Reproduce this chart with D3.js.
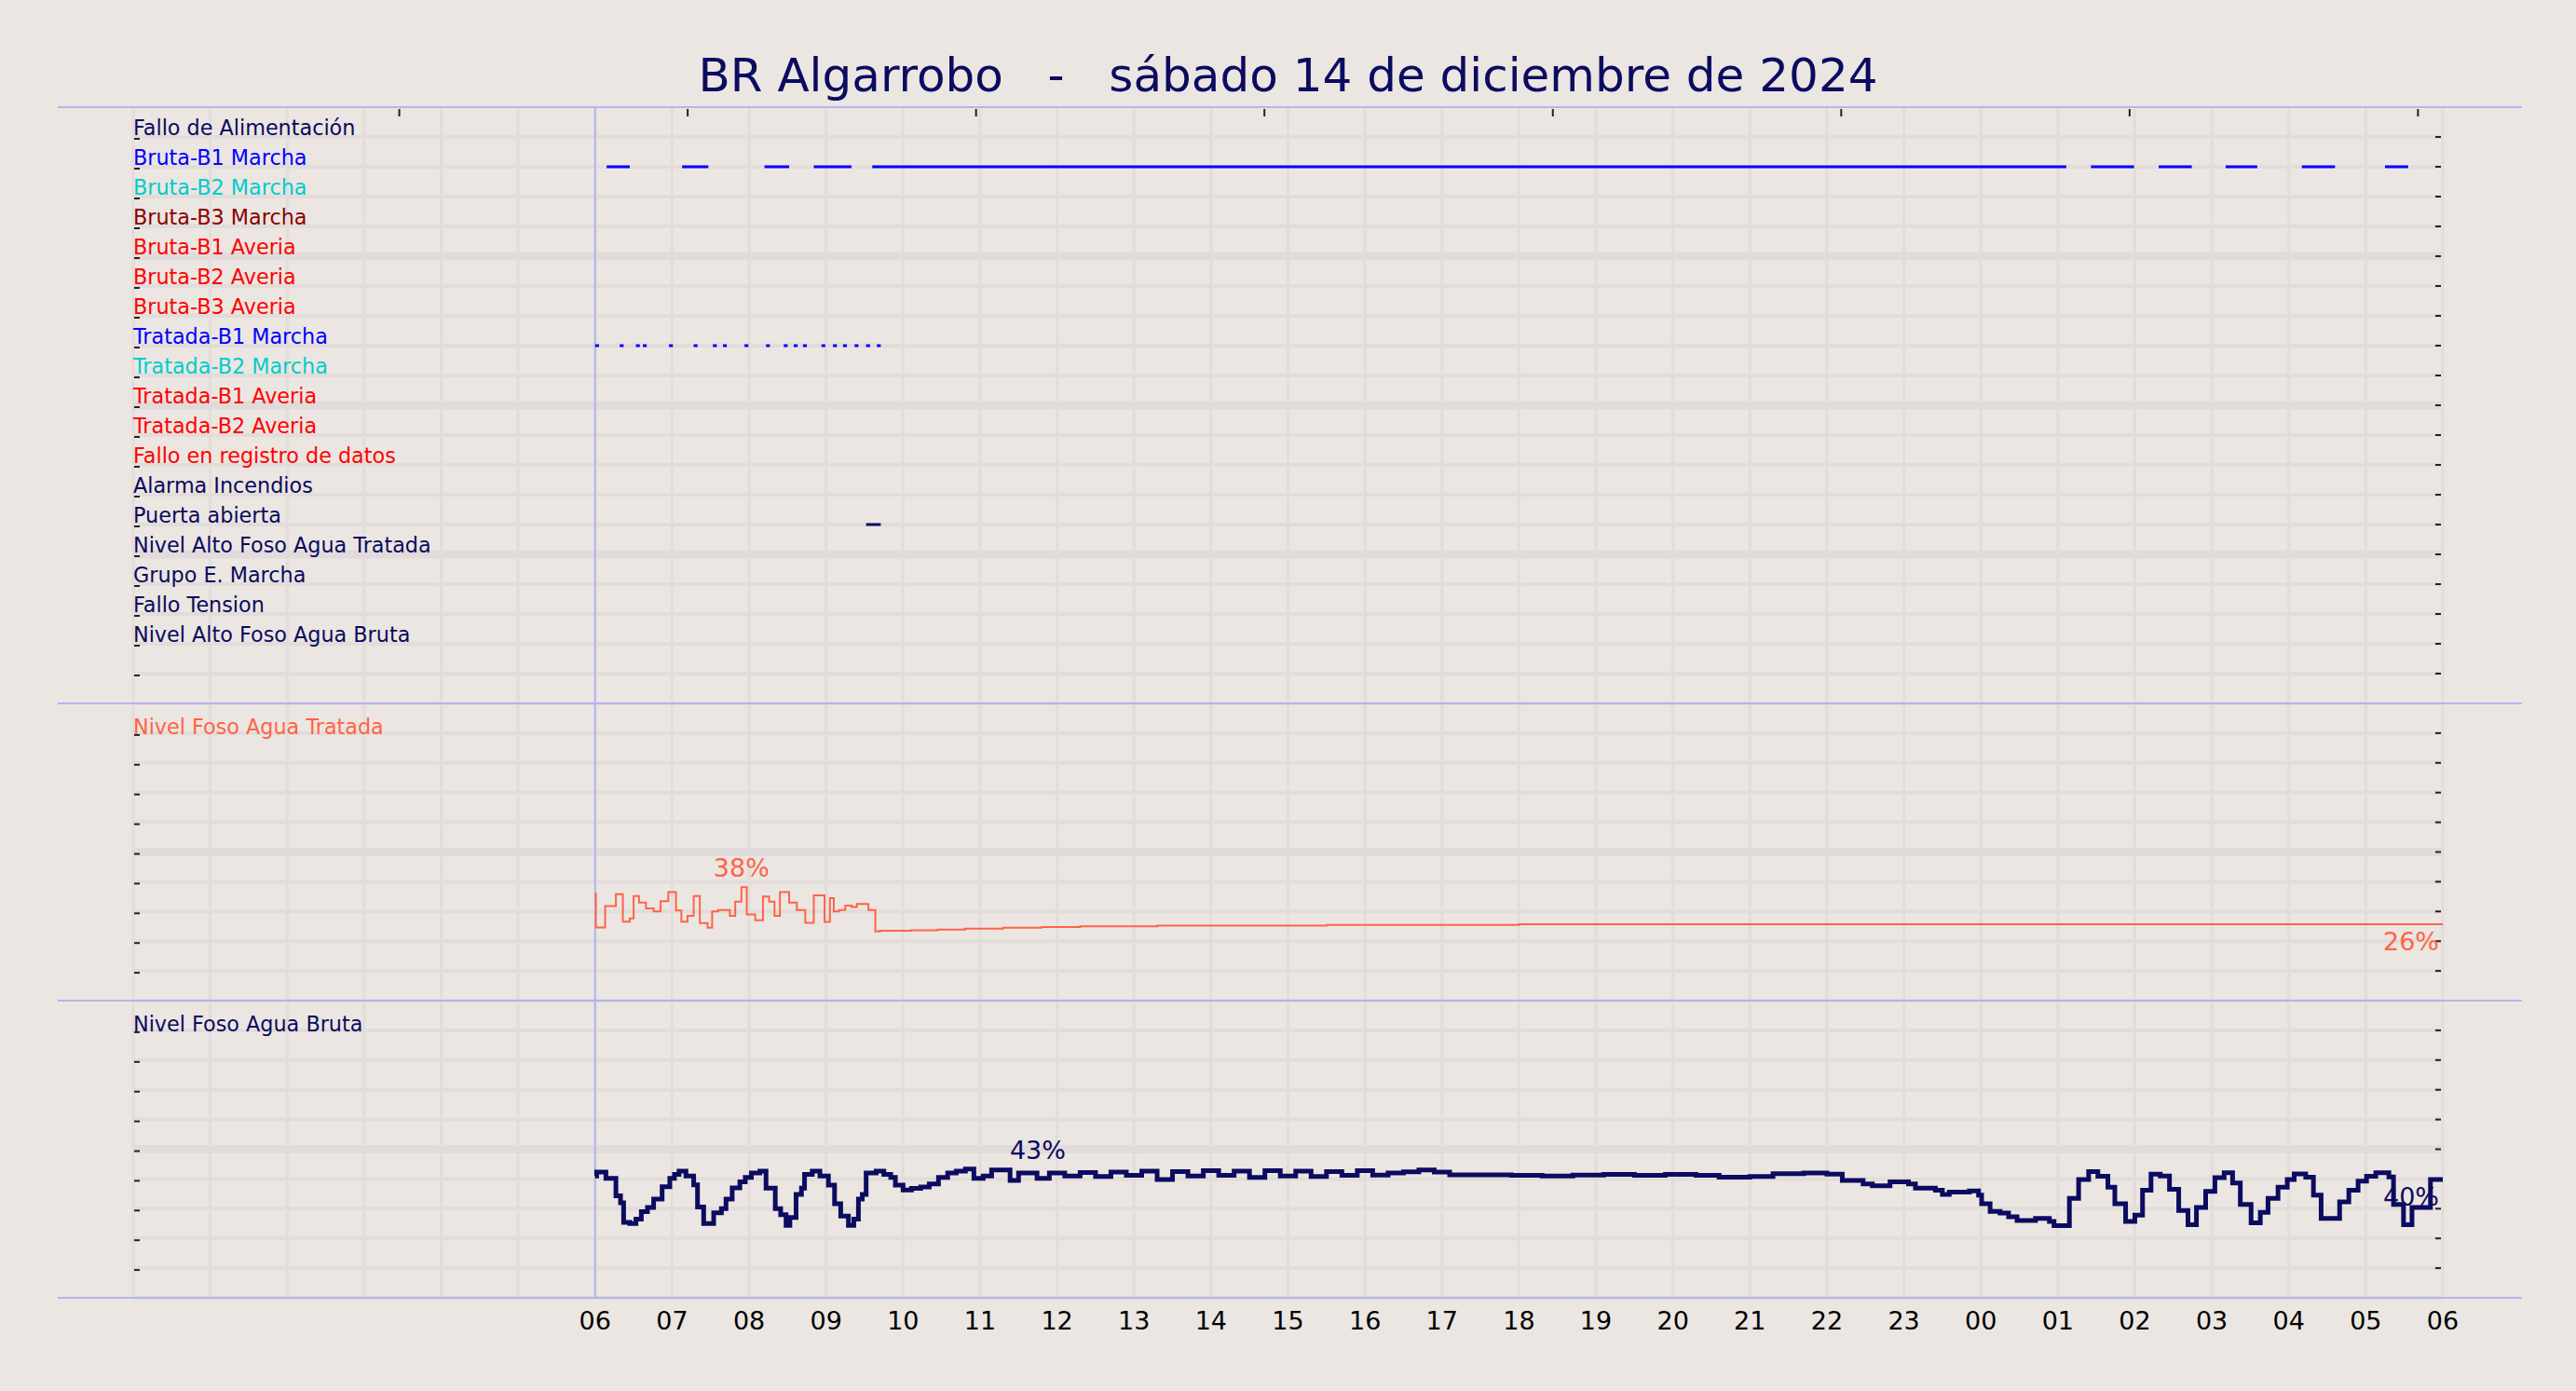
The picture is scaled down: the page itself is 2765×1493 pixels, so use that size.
<!DOCTYPE html>
<html><head><meta charset="utf-8">
<script src="https://cdn.jsdelivr.net/npm/d3@7"></script>
<style>body{margin:0;background:#ebe6e1}svg{display:block}</style>
</head><body>
<svg id="chart" width="2765" height="1493"></svg>
<script>
// hours counted from 00:00 of the 14th, events/levels from 06:00
const title = 'BR Algarrobo   -   sábado 14 de diciembre de 2024';
const hourLabels = ['06','07','08','09','10','11','12','13','14','15','16','17','18','19','20','21','22','23','00','01','02','03','04','05','06'];

const signalNames = ['Fallo de Alimentación','Bruta-B1 Marcha','Bruta-B2 Marcha','Bruta-B3 Marcha','Bruta-B1 Averia','Bruta-B2 Averia','Bruta-B3 Averia','Tratada-B1 Marcha','Tratada-B2 Marcha','Tratada-B1 Averia','Tratada-B2 Averia','Fallo en registro de datos','Alarma Incendios','Puerta abierta','Nivel Alto Foso Agua Tratada','Grupo E. Marcha','Fallo Tension','Nivel Alto Foso Agua Bruta'];
const signalColors = ['#0a0a60','#0000ff','#00cccc','#8b0000','#ff0000','#ff0000','#ff0000','#0000ff','#00cccc','#ff0000','#ff0000','#ff0000','#0a0a60','#0a0a60','#0a0a60','#0a0a60','#0a0a60','#0a0a60'];

// [start, end] in hours after 06:00
const brutaB1 = [[0.15,0.45],[1.13,1.47],[2.2,2.52],[2.84,3.33],[3.6,19.11],[19.43,19.99],[20.31,20.74],[21.18,21.59],[22.17,22.6],[23.25,23.55]];
const tratadaB1 = [0,0.32,0.53,0.62,0.96,1.28,1.53,1.66,1.94,2.22,2.45,2.58,2.7,2.94,3.09,3.22,3.37,3.52,3.66];
const puerta = [[3.52,3.71]];

const aguaTratada = [[0,36],[0.01,24.6],[0.13,31.8],[0.27,35.8],[0.36,26.6],[0.45,27.7],[0.5,35.2],[0.57,33],[0.66,31],[0.76,30],[0.85,33.5],[0.95,36.5],[1.05,30.3],[1.12,26.6],[1.2,28.5],[1.28,35.2],[1.36,26.1],[1.46,24.5],[1.52,30],[1.6,30.5],[1.75,28.5],[1.82,33.3],[1.9,38.2],[1.97,29],[2.08,27],[2.18,35],[2.26,33.3],[2.33,28.5],[2.4,36.5],[2.52,33],[2.62,30.5],[2.73,26.2],[2.84,35.4],[2.98,26.5],[3.05,34.5],[3.1,30],[3.17,30.5],[3.25,32],[3.33,31.5],[3.4,32.5],[3.55,30.5],[3.64,23.3],[3.7,23.5],[4.1,23.7],[4.45,23.9],[4.8,24.2],[5.3,24.5],[5.8,24.8],[6.3,25],[7.3,25.2],[9.5,25.5],[12,25.7],[24,25.7]];
const aguaBruta = [[0,41],[0.02,42.3],[0.14,40.2],[0.27,34.3],[0.33,32],[0.37,25.4],[0.45,25],[0.53,26.5],[0.6,29],[0.68,30.4],[0.76,33.2],[0.87,37.4],[0.97,40.2],[1.03,41.5],[1.09,42.6],[1.18,41],[1.28,38],[1.33,30.6],[1.41,25],[1.54,28.6],[1.64,30],[1.7,33.2],[1.78,37],[1.88,39],[1.95,40.5],[2.03,42],[2.14,42.6],[2.22,36.9],[2.34,30],[2.41,28],[2.48,24.4],[2.53,27],[2.61,34.8],[2.68,36.9],[2.72,41.5],[2.82,42.6],[2.92,41],[3.03,37.9],[3.11,31.7],[3.19,27.5],[3.29,24.4],[3.36,26.5],[3.42,33.2],[3.47,34.8],[3.52,42],[3.65,42.6],[3.75,41.5],[3.84,40.5],[3.9,37.9],[4,36.3],[4.11,36.8],[4.23,37.3],[4.34,38.3],[4.46,40.5],[4.58,42],[4.69,42.6],[4.81,43.3],[4.92,40.2],[5.04,41],[5.15,43],[5.35,43],[5.39,39.5],[5.5,42],[5.62,42],[5.74,40.2],[5.9,42],[6.1,41],[6.3,42.2],[6.5,40.8],[6.7,42.3],[6.9,41.2],[7.1,42.6],[7.3,39.8],[7.5,42.5],[7.7,41],[7.9,42.8],[8.1,41.2],[8.3,42.6],[8.5,40.5],[8.7,42.8],[8.9,41],[9.1,42.6],[9.3,40.8],[9.5,42.5],[9.7,41.2],[9.9,42.8],[10.1,41.3],[10.3,42],[10.5,42.4],[10.7,43],[10.9,42.3],[11.1,41.4],[11.5,41.4],[11.9,41.2],[12.3,41],[12.7,41.3],[13.1,41.5],[13.5,41.2],[13.9,41.5],[14.3,41.2],[14.6,40.6],[15,40.8],[15.3,41.8],[15.7,42],[16,41.6],[16.2,39.5],[16.47,38.3],[16.59,37.7],[16.82,39],[17.06,38.3],[17.15,36.9],[17.41,36.2],[17.5,34.8],[17.59,35.6],[17.85,36],[17.97,34.6],[18.01,31.7],[18.12,29.1],[18.25,28.5],[18.36,27.3],[18.47,26],[18.71,26.7],[18.89,25.7],[18.95,24.3],[19.06,24.3],[19.15,33.5],[19.27,39.8],[19.4,42.5],[19.52,40.9],[19.65,37.2],[19.74,31.7],[19.88,25.7],[20,27.8],[20.1,36.2],[20.21,41.6],[20.33,41],[20.45,36.5],[20.57,29.4],[20.69,24.6],[20.8,30.4],[20.92,35.8],[21.04,40.4],[21.16,42.1],[21.27,38.6],[21.37,31.4],[21.51,25.2],[21.63,28.8],[21.73,33.5],[21.86,37.2],[21.98,39.8],[22.07,41.7],[22.22,40.6],[22.32,34.6],[22.42,26.7],[22.66,32.3],[22.78,36.2],[22.9,39.3],[23.01,40.9],[23.13,42.1],[23.3,40.7],[23.36,31.4],[23.49,24.6],[23.6,30.4],[23.84,39.8],[24,39.8]];

const svg = d3.select('#chart');
const W = 2765, H = 1493;
svg.append('rect').attr('width', W).attr('height', H).attr('fill', '#ebe6e1');

const x = d3.scaleLinear().domain([0, 30]).range([143, 2622]);
const at = h => x(h + 6);
const yEv = d3.scaleLinear().domain([0, 20]).range([755, 115]);
const yTr = d3.scaleLinear().domain([0, 100]).range([1074, 755]);
const yBr = d3.scaleLinear().domain([0, 100]).range([1393, 1074]);
const gridCol = '#e2dcda';
const lav = '#b4b4f0';
const navy = '#0b0b60', tomato = '#ff6347';
const font = 'DejaVu Sans, sans-serif';

// vertical grid
svg.append('g').selectAll('line').data(d3.range(0, 31)).join('line')
  .attr('x1', d => x(d)).attr('x2', d => x(d)).attr('y1', 115).attr('y2', 1393)
  .attr('stroke', gridCol).attr('stroke-width', 3);

// horizontal grid per panel
function hgrid(y, vals, major) {
  svg.append('g').selectAll('line').data(vals).join('line')
    .attr('x1', 143).attr('x2', 2622).attr('y1', d => y(d)).attr('y2', d => y(d))
    .attr('stroke', d => major.includes(d) ? '#e1dbdb' : gridCol)
    .attr('stroke-width', d => major.includes(d) ? 9 : 4);
  svg.append('g').selectAll('line').data(vals.filter(v => v > 0)).join('line')
    .attr('x1', 2614).attr('x2', 2620).attr('y1', d => y(d)).attr('y2', d => y(d))
    .attr('stroke', '#222').attr('stroke-width', 2);
  svg.append('g').selectAll('line').data(vals.filter(v => v > 0)).join('line')
    .attr('x1', 144).attr('x2', 150).attr('y1', d => y(d) + 2).attr('y2', d => y(d) + 2)
    .attr('stroke', '#222').attr('stroke-width', 2);
}
hgrid(yEv, d3.range(0, 20), [5, 10, 15]);
hgrid(yTr, d3.range(0, 100, 10), [50]);
hgrid(yBr, d3.range(0, 100, 10), [50]);

// panel borders
[115, 755, 1074, 1393].forEach(v => svg.append('line').attr('x1', 62).attr('x2', 2707)
  .attr('y1', v).attr('y2', v).attr('stroke', lav).attr('stroke-width', 2));
svg.append('line').attr('x1', at(0)).attr('x2', at(0)).attr('y1', 115).attr('y2', 1393)
  .attr('stroke', lav).attr('stroke-width', 2);

// top tick marks
const topTicks = d3.range(8).map(i => 3.456 + i * 3.746);
svg.append('g').selectAll('line').data(topTicks).join('line')
  .attr('x1', d => x(d)).attr('x2', d => x(d)).attr('y1', 117).attr('y2', 125)
  .attr('stroke', '#222').attr('stroke-width', 2);

// title
svg.append('text').attr('x', W / 2).attr('y', 98).attr('text-anchor', 'middle')
  .attr('font-family', font).attr('font-size', 50).attr('fill', navy)
  .attr('xml:space', 'preserve').text(title);

// signal labels
svg.append('g').selectAll('text').data(signalNames).join('text')
  .attr('x', 143).attr('y', (d, i) => yEv(19 - i) - 2)
  .attr('font-family', font).attr('font-size', 22.3)
  .attr('fill', (d, i) => signalColors[i]).text(d => d);

// events
const ev = svg.append('g');
ev.selectAll('.b1').data(brutaB1).join('line')
  .attr('x1', d => at(d[0])).attr('x2', d => at(d[1])).attr('y1', yEv(18)).attr('y2', yEv(18))
  .attr('stroke', '#0000ff').attr('stroke-width', 3);
ev.selectAll('.t1').data(tratadaB1).join('line')
  .attr('x1', d => at(d)).attr('x2', d => at(d + 0.05)).attr('y1', yEv(12)).attr('y2', yEv(12))
  .attr('stroke', '#0000ff').attr('stroke-width', 3);
ev.selectAll('.pa').data(puerta).join('line')
  .attr('x1', d => at(d[0])).attr('x2', d => at(d[1])).attr('y1', yEv(6)).attr('y2', yEv(6))
  .attr('stroke', navy).attr('stroke-width', 3);

// level panels
function levelPanel(data, y, color, width, name, startLbl, endLbl) {
  const line = d3.line().x(d => at(d[0])).y(d => y(d[1])).curve(d3.curveStepAfter);
  svg.append('path').datum(data).attr('d', line).attr('fill', 'none')
    .attr('stroke', color).attr('stroke-width', width);
  svg.append('text').attr('x', 143).attr('y', y(90) + 1).attr('font-family', font)
    .attr('font-size', 22.3).attr('fill', color).text(name);
  const mx = data.reduce((a, b) => b[1] > a[1] ? b : a);
  svg.append('text').attr('x', at(startLbl)).attr('y', y(mx[1] + 3.5)).attr('text-anchor', 'middle')
    .attr('font-family', font).attr('font-size', 27).attr('fill', color)
    .text(Math.round(mx[1]) + '%');
  const last = data[data.length - 1];
  svg.append('text').attr('x', at(24) - 4).attr('y', y(endLbl)).attr('text-anchor', 'end')
    .attr('font-family', font).attr('font-size', 27).attr('fill', color)
    .text(Math.round(last[1]) + '%');
}
levelPanel(aguaTratada, yTr, tomato, 2, 'Nivel Foso Agua Tratada', 1.9, 17);
levelPanel(aguaBruta, yBr, navy, 5, 'Nivel Foso Agua Bruta', 5.75, 31);

// bottom axis
svg.append('g').selectAll('text').data(hourLabels).join('text')
  .attr('x', (d, i) => at(i)).attr('y', 1427).attr('text-anchor', 'middle')
  .attr('font-family', font).attr('font-size', 27).attr('fill', '#000').text(d => d);
</script>
</body></html>
